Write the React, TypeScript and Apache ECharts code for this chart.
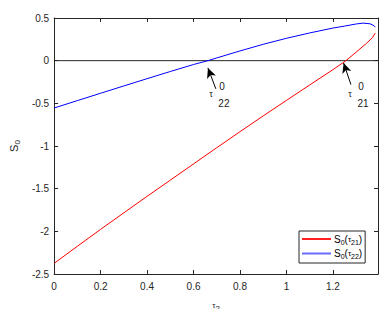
import React, { useEffect, useRef } from "react";
import * as echarts from "echarts";

// tau_2 samples and S0 values
const redX = [0, 0.1, 0.2, 0.3, 0.4, 0.5, 0.6, 0.7, 0.8, 0.9, 1.0, 1.1, 1.2, 1.256, 1.3, 1.345, 1.37, 1.382];
const redY = [-2.375, -2.175, -1.977, -1.783, -1.59, -1.4, -1.21, -1.02, -0.832, -0.647, -0.465, -0.285, -0.105, 0, 0.1, 0.205, 0.27, 0.323];
const blueX = [0, 0.1, 0.2, 0.3, 0.4, 0.5, 0.6, 0.662, 0.7, 0.8, 0.9, 1.0, 1.1, 1.2, 1.25, 1.3, 1.33, 1.36, 1.377, 1.382];
const blueY = [-0.555, -0.468, -0.382, -0.296, -0.211, -0.127, -0.045, 0, 0.032, 0.114, 0.192, 0.262, 0.325, 0.382, 0.405, 0.43, 0.44, 0.432, 0.41, 0.393];

const xMin = 0;
const xMax = 1.394;
const xStep = 0.2;
const yMin = -2.5;
const yMax = 0.5;
const yStep = 0.5;

// zero crossings (tau^0_22, tau^0_21) and arrow tail/head points
const root22 = [0.662, 0];
const root21 = [1.256, 0];
const arrow22 = [[0.696, -0.33], [0.662, -0.085]];
const arrow21 = [[1.2775, -0.28], [1.246, -0.027]];
const sub22 = "22";
const sub21 = "21";

const seriesNames = ["S0(τ21)", "S0(τ22)"];
const seriesColors = ["#ff0000", "#0000ff"];
const legendColors = ["#ff2020", "#6a6aff"];

const FONT = "'Liberation Sans', Arial, Helvetica, sans-serif";
const AX = "#262626";

const zip = (xs: number[], ys: number[]) => xs.map((x, i) => [x, ys[i]]);

export default function App() {
  const ref = useRef<HTMLDivElement>(null);
  useEffect(() => {
    if (!ref.current) return;
    const chart = echarts.init(ref.current, null, { renderer: "svg" });

    const subRich = {
      a: { fontSize: 10, fontFamily: FONT, color: "#000", lineHeight: 13, verticalAlign: "middle" },
      s: { fontSize: 7, fontFamily: FONT, color: "#000", lineHeight: 13, verticalAlign: "bottom", padding: [4, 0, 0, 0] },
      t: { fontSize: 8, fontFamily: FONT, color: "#000", lineHeight: 13, verticalAlign: "middle" },
    };

    const axisCommon = {
      axisLine: { show: true, onZero: false, lineStyle: { color: AX, width: 1 } },
      axisTick: { show: true, inside: true, length: 4, lineStyle: { color: AX } },
      splitLine: { show: false },
    };

    const fmtX = (v: number) => {
      const k = Math.round(v / xStep);
      return Math.abs(k * xStep - v) < 1e-6 ? String(+(k * xStep).toFixed(1)) : "";
    };

    const arrowLine = (pts: number[][]) => ({
      silent: true,
      symbol: ["none", "arrow"],
      symbolSize: [7, 10],
      lineStyle: { color: "#000", width: 1, type: "solid" },
      label: { show: false },
      data: [[{ coord: pts[0] }, { coord: pts[1] }]],
    });

    chart.setOption({
      animation: false,
      backgroundColor: "#fff",
      grid: { left: 50, top: 18, width: 328, height: 257, containLabel: false },
      legend: {
        data: seriesNames.map((n, i) => ({ name: n, icon: "rect", itemStyle: { color: legendColors[i], borderWidth: 0 } })),
        orient: "vertical",
        left: 299,
        top: 231,
        padding: [3, 3, 3, 3],
        itemGap: 3,
        itemWidth: 29,
        itemHeight: 2,
        backgroundColor: "#fff",
        borderColor: AX,
        borderWidth: 1,
        borderRadius: 0,
        formatter: (name: string) => {
          const sub = name.indexOf("21") >= 0 ? "21" : "22";
          return `{a|S}{s|0}{a|(}{t|τ}{s|${sub}}{a|)}`;
        },
        textStyle: { rich: subRich, padding: [0, 0, 0, -2] },
      },
      xAxis: [
        {
          type: "value",
          min: xMin,
          max: xMax,
          interval: xStep,
          position: "bottom",
          ...axisCommon,
          axisLabel: { formatter: fmtX, fontSize: 10, fontFamily: FONT, color: AX, margin: 7 },
          name: "{t|τ}{s|2}",
          nameLocation: "middle",
          nameGap: 24,
          nameTextStyle: {
            rich: {
              t: { fontSize: 8, fontFamily: FONT, color: AX, lineHeight: 14, verticalAlign: "middle" },
              s: { fontSize: 8, fontFamily: FONT, color: AX, lineHeight: 14, verticalAlign: "bottom", padding: [4, 0, 0, 0] },
            },
          },
        },
        {
          type: "value",
          min: xMin,
          max: xMax,
          interval: xStep,
          position: "top",
          ...axisCommon,
          axisLabel: { show: false },
        },
      ],
      yAxis: [
        {
          type: "value",
          min: yMin,
          max: yMax,
          interval: yStep,
          position: "left",
          ...axisCommon,
          axisLabel: { fontSize: 10, fontFamily: FONT, color: AX, margin: 5 },
          name: "{a|S}{s|0}",
          nameLocation: "middle",
          nameGap: 30,
          nameRotate: 90,
          nameTextStyle: {
            rich: {
              a: { fontSize: 11, fontFamily: FONT, color: AX, lineHeight: 15, verticalAlign: "middle" },
              s: { fontSize: 8, fontFamily: FONT, color: AX, lineHeight: 15, verticalAlign: "bottom", padding: [4, 0, 0, 0] },
            },
          },
        },
        {
          type: "value",
          min: yMin,
          max: yMax,
          interval: yStep,
          position: "right",
          ...axisCommon,
          axisLabel: { show: false },
        },
      ],
      series: [
        {
          name: "zero",
          type: "line",
          data: [[xMin, 0], [xMax, 0]],
          symbol: "none",
          silent: true,
          color: AX,
          lineStyle: { color: AX, width: 1 },
          z: 1,
        },
        {
          name: seriesNames[0],
          type: "line",
          data: zip(redX, redY),
          symbol: "none",
          color: seriesColors[0],
          lineStyle: { color: seriesColors[0], width: 1 },
          z: 3,
          markLine: arrowLine(arrow21),
        },
        {
          name: seriesNames[1],
          type: "line",
          data: zip(blueX, blueY),
          symbol: "none",
          color: seriesColors[1],
          lineStyle: { color: seriesColors[1], width: 1 },
          z: 3,
          markLine: arrowLine(arrow22),
        },
      ],
    });

    // tau^0 labels placed relative to the zero crossings
    const labelAt = (root: number[], sub: string, dxT: number) => {
      const p = chart.convertToPixel({ gridIndex: 0 }, root) as number[];
      const txt = (dx: number, dy: number, s: string, size: number) => ({
        type: "text",
        x: p[0] + dx,
        y: p[1] + dy,
        silent: true,
        style: {
          text: s,
          fontSize: size,
          fontFamily: FONT,
          fill: "#1a1a1a",
          align: "center",
          verticalAlign: "middle",
        },
      });
      return [txt(dxT, 33, "τ", 9), txt(dxT + 11, 26, "0", 10), txt(dxT + 13, 43, sub, 10)];
    };
    chart.setOption({
      graphic: [...labelAt(root22, sub22, 3), ...labelAt(root21, sub21, 4)],
    });

    return () => chart.dispose();
  }, []);
  return <div ref={ref} style={{ width: 387, height: 317, margin: -8 }} />;
}
